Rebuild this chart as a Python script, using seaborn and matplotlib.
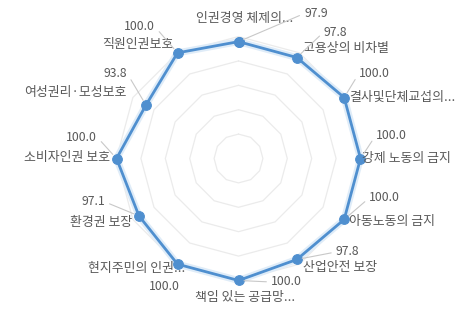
import numpy as np
import pandas as pd
import seaborn as sns
import matplotlib.pyplot as plt

# Radar data
categories = ["인권경영 체제의...", "고용상의 비차별", "결사및단체교섭의...", "강제 노동의 금지",
              "아동노동의 금지", "산업안전 보장", "책임 있는 공급망...", "현지주민의 인권...",
              "환경권 보장", "소비자인권 보호", "여성권리·모성보호", "직원인권보호"]
scores = [97.9, 97.8, 100.0, 100.0, 100.0, 97.8, 100.0, 100.0, 97.1, 100.0, 93.8, 100.0]
grid_levels = [60, 70, 80, 90, 100]
r_min, r_max = 50, 100

# Label layout: pixel offsets from each marker (x right, y up) and alignment
cat_offsets = [(6.5, 23, "center"), (6, 9.5, "left"), (5, 0, "left"), (2, 0, "left"),
               (5, -2.5, "left"), (6, -8.5, "left"), (6.5, -17.5, "center"), (7.5, -4, "right"),
               (-7, -7, "right"), (-6.5, 1.5, "right"), (-19, 13, "right"), (-4.5, 8, "right")]
val_offsets = [(65.5, 28, "left"), (27, 25.5, "left"), (15, 24.5, "left"), (15.5, 23.5, "left"),
               (25, 21.5, "left"), (39, 7.5, "left"), (32.5, -1.5, "left"), (2.5, -22, "right"),
               (-34, 14, "right"), (-19.5, 21.5, "right"), (-19, 32, "right"), (-22.5, 26, "right")]
leader = [True, True, True, True, True, True, True, False, True, True, True, True]

sns.set_theme(style="white")
plt.rcParams["font.family"] = ["Noto Sans CJK KR", "DejaVu Sans"]

n = len(categories)
theta = np.linspace(0, 2 * np.pi, n, endpoint=False)
theta_closed = np.append(theta, 2 * np.pi)
df = pd.DataFrame({"theta": theta_closed, "score": scores + scores[:1]})

fig = plt.figure(figsize=(4.73, 3.10), dpi=100)
ax = fig.add_axes([0.2463, 0.0952, 0.5159, 0.787], projection="polar")
ax.set_theta_offset(np.pi / 2)
ax.set_theta_direction(-1)
ax.set_ylim(r_min, r_max)
ax.grid(False)
ax.set_xticks([])
ax.set_yticks([])
ax.spines["polar"].set_visible(False)
ax.set_facecolor("none")

# polygon gridlines
for lvl in grid_levels:
    ax.plot(theta_closed, [lvl] * (n + 1), color="#ebebeb", lw=0.9, zorder=1, clip_on=False)

# soft glow under the series
ax.plot(df["theta"], df["score"], color="#dfecf8", lw=5, solid_joinstyle="round",
        zorder=2, clip_on=False)
sns.lineplot(data=df, x="theta", y="score", sort=False, ax=ax, color="#4f8fcf", lw=2,
             marker="o", markersize=7, markeredgecolor="#4f8fcf", zorder=3, clip_on=False)
ax.set_xlabel("")
ax.set_ylabel("")

txt_color = "#595959"
for i in range(n):
    cdx, cdy, cha = cat_offsets[i]
    ax.annotate(categories[i], xy=(theta[i], scores[i]), xytext=(cdx, cdy),
                textcoords="offset pixels", ha=cha, va="center", fontsize=9.3,
                color=txt_color, annotation_clip=False, zorder=4)
    vdx, vdy, vha = val_offsets[i]
    props = None
    if leader[i]:
        props = dict(arrowstyle="-", color="#c8c8c8", lw=0.8, shrinkA=1, shrinkB=4,
                     relpos=(0, 0.5) if vha == "left" else (1, 0.5))
    ax.annotate(f"{scores[i]:.1f}", xy=(theta[i], scores[i]), xytext=(vdx, vdy),
                textcoords="offset pixels", ha=vha, va="center", fontsize=8.8,
                color=txt_color, annotation_clip=False, arrowprops=props, zorder=4)

fig.savefig("out.png", dpi=100)
